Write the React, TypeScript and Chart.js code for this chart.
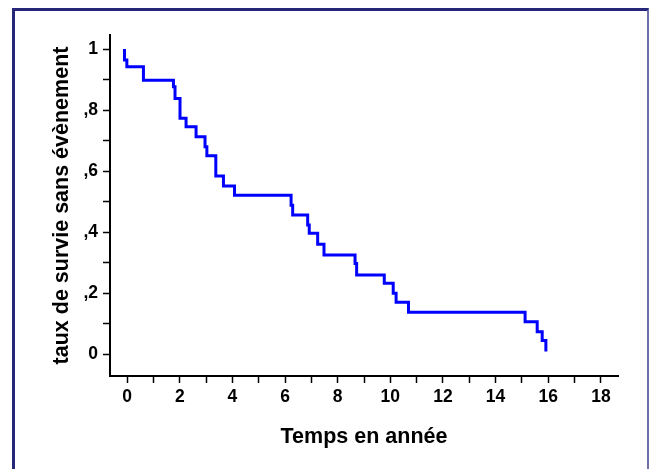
import React, { useEffect, useRef } from 'react';
import { Chart, registerables } from 'chart.js';

Chart.register(...registerables);

// Kaplan-Meier estimate: time (years) of each step and survival after the step
const eventTimes = [-0.1, -0.1, -0.01, 0.62, 1.76, 1.82, 2.01, 2.24, 2.62, 2.96, 3.03, 3.37, 3.66, 4.08, 6.23, 6.29, 6.86, 6.92, 7.24, 7.48, 8.66, 8.72, 9.77, 10.11, 10.22, 10.69, 15.12, 15.58, 15.77, 15.91];
const survival = [1.0, 0.964, 0.942, 0.898, 0.876, 0.838, 0.773, 0.745, 0.712, 0.68, 0.65, 0.584, 0.551, 0.521, 0.488, 0.456, 0.423, 0.396, 0.36, 0.325, 0.297, 0.259, 0.232, 0.199, 0.17, 0.137, 0.106, 0.073, 0.044, 0.008];

const xTickLabels = ['0', '2', '4', '6', '8', '10', '12', '14', '16', '18'];
const yTickLabels = ['0', ',2', ',4', ',6', ',8', '1'];

const xTitle = 'Temps en année';
const yTitle = 'taux de survie sans évènement';

const FONT = "'Liberation Sans', Arial, sans-serif";

export default function App() {
  const canvasRef = useRef<HTMLCanvasElement | null>(null);

  useEffect(() => {
    const canvas = canvasRef.current;
    if (!canvas) return;
    const points = eventTimes.map((t, i) => ({ x: t, y: survival[i] }));
    const chart = new Chart(canvas, {
      type: 'line',
      data: {
        datasets: [
          {
            data: points,
            borderColor: '#0000ff',
            borderWidth: 3,
            pointRadius: 0,
            fill: false,
            stepped: 'before',
            tension: 0,
          },
        ],
      },
      options: {
        animation: false,
        responsive: false,
        maintainAspectRatio: false,
        layout: { padding: { left: 0, right: 32, top: 35, bottom: 0 } },
        plugins: {
          legend: { display: false },
          tooltip: { enabled: false },
          title: { display: false },
        },
        scales: {
          x: {
            type: 'linear',
            min: -0.65,
            max: 18.65,
            afterFit: (s: any) => {
              s.height = 93;
            },
            border: { display: true, color: '#000', width: 2 },
            grid: {
              drawOnChartArea: false,
              drawTicks: true,
              tickLength: 7,
              tickColor: '#000',
              tickWidth: 1.5,
            },
            ticks: {
              stepSize: 1,
              includeBounds: false,
              autoSkip: false,
              maxRotation: 0,
              padding: 4,
              color: '#000',
              font: { family: FONT, size: 17.5, weight: 'bold' },
              callback: (v: any) => {
                const n = Math.round(Number(v));
                const lbl = xTickLabels.indexOf(String(n));
                return lbl >= 0 ? xTickLabels[lbl] : '';
              },
            },
            title: {
              display: true,
              text: xTitle,
              color: '#000',
              font: { family: FONT, size: 21.5, weight: 'bold' },
              padding: { top: 0, bottom: 19 },
            },
          },
          y: {
            type: 'linear',
            min: -0.072,
            max: 1.046,
            afterFit: (s: any) => {
              s.width = 110;
            },
            border: { display: true, color: '#000', width: 2 },
            grid: {
              drawOnChartArea: false,
              drawTicks: true,
              tickLength: 7,
              tickColor: '#000',
              tickWidth: 1.5,
            },
            ticks: {
              stepSize: 0.1,
              includeBounds: false,
              autoSkip: false,
              padding: 5,
              color: '#000',
              font: { family: FONT, size: 17.5, weight: 'bold' },
              callback: (v: any) => {
                const k = Math.round(Number(v) * 10);
                if (k % 2 !== 0) return '';
                return yTickLabels[k / 2] ?? '';
              },
            },
            title: {
              display: true,
              text: yTitle,
              color: '#000',
              font: { family: FONT, size: 21.5, weight: 'bold' },
              padding: { top: 49, bottom: 0 },
            },
          },
        },
      },
    });
    return () => chart.destroy();
  }, []);

  return (
    <div
      style={{
        position: 'fixed',
        left: 0,
        top: 0,
        width: 650,
        height: 469,
        overflow: 'hidden',
        background: '#fff',
      }}
    >
      <div
        style={{
          position: 'absolute',
          left: 12,
          top: 8,
          width: 637,
          height: 520,
          boxSizing: 'border-box',
          borderLeft: '3px solid #27277a',
          borderTop: '3px solid #27277a',
          borderRight: '2px solid #6f6fa8',
        }}
      />
      <canvas
        ref={canvasRef}
        width={650}
        height={469}
        style={{ position: 'absolute', left: 0, top: 0, width: 650, height: 469 }}
      />
    </div>
  );
}
